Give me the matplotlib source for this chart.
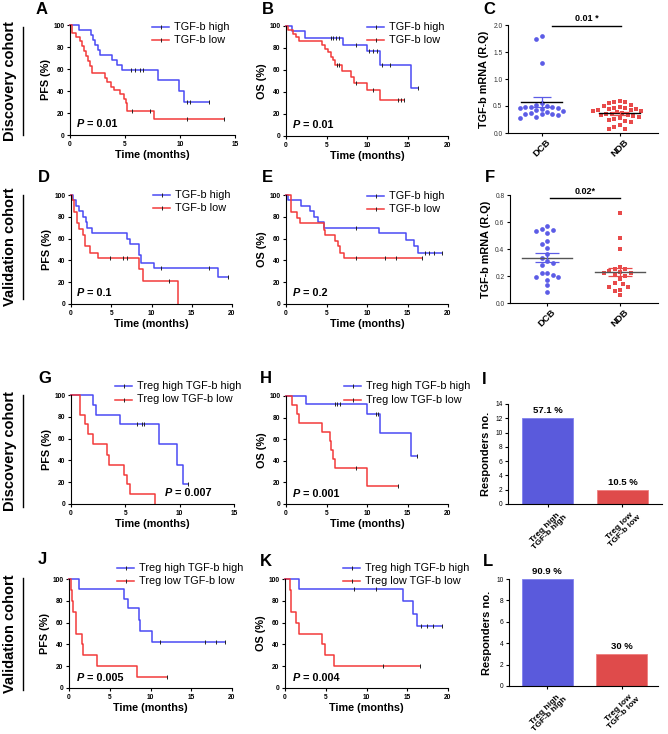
import numpy as np
import matplotlib
matplotlib.use("Agg")
import matplotlib.pyplot as plt
from matplotlib.lines import Line2D

plt.rcParams["font.family"] = ["Liberation Sans", "DejaVu Sans"]
plt.rcParams["axes.linewidth"] = 0.8

W, H = 668, 734

KM_BLUE = "#4a4af4"
KM_RED = "#f23a3a"
DOT_BLUE = "#5c5ce6"
DOT_RED = "#e84a4a"
BAR_BLUE = "#5a5adc"
BAR_RED = "#df4b4b"

# ---- Kaplan-Meier curves: event times, survival after event (%), censor times ----
# A: PFS discovery, TGF-b
a_hi_t = [0.8, 1.9, 2.1, 2.3, 2.5, 2.7, 3.8, 4.3, 4.7, 8.0, 9.9, 10.4]
a_hi_s = [95, 91, 86, 82, 77, 73, 68, 64, 59, 50, 40, 30]
a_hi_c = [5.5, 5.9, 6.4, 6.6, 10.6, 10.9, 12.6]
a_lo_t = [0.15, 0.5, 0.9, 1.1, 1.3, 1.45, 1.6, 1.85, 2.0, 3.2, 3.4, 3.7, 4.0, 4.5, 4.9, 5.05, 5.2, 7.6]
a_lo_s = [93, 89, 85, 81, 76, 72, 67, 63, 56, 52, 48, 44, 41, 37, 33, 29, 22, 15]
a_lo_c = [5.6, 7.3, 10.6, 14.0]

# B: OS discovery, TGF-b
b_hi_t = [0.75, 2.4, 7.0, 10.0, 11.6, 15.4]
b_hi_s = [95, 89, 83, 77, 65, 44]
b_hi_c = [5.5, 5.8, 6.2, 6.6, 8.7, 10.3, 10.7, 11.2, 11.9, 12.9, 16.3]
b_lo_t = [0.3, 0.9, 1.2, 1.6, 4.5, 4.8, 5.2, 5.5, 5.75, 6.0, 6.9, 8.0, 8.4, 10.0, 11.6]
b_lo_s = [96, 93, 90, 86, 83, 79, 76, 72, 69, 65, 59, 54, 48, 42, 33]
b_lo_c = [6.3, 6.6, 8.6, 10.7, 13.8, 14.2, 14.6]

# D: PFS validation, TGF-b
d_hi_t = [0.3, 0.6, 1.0, 1.5, 1.9, 2.0, 2.6, 6.9, 7.3, 8.5, 8.7, 10.3, 18.3]
d_hi_s = [95, 90, 85, 80, 75, 70, 65, 60, 55, 45, 38, 33, 25]
d_hi_c = [11.2, 17.1, 19.5]
d_lo_t = [0.1, 0.4, 0.7, 1.0, 1.55, 1.7, 2.4, 3.4, 8.4, 8.9, 13.3]
d_lo_s = [95, 84, 74, 69, 63, 53, 47, 42, 32, 21, 0]
d_lo_c = [4.9, 6.5, 6.9, 12.2]

# E: OS validation, TGF-b
e_hi_t = [0.3, 1.8, 3.0, 3.4, 3.9, 4.75, 11.5, 14.8, 15.8, 16.3]
e_hi_s = [95, 90, 85, 80, 75, 70, 65, 59, 53, 47]
e_hi_c = [8.6, 17.1, 17.6, 18.3, 19.3]
e_lo_t = [0.6, 1.3, 1.7, 4.65, 4.8, 6.0, 6.4, 6.7, 7.2]
e_lo_s = [84, 79, 74, 68, 63, 58, 53, 47, 42]
e_lo_c = [8.7, 12.2, 13.6, 16.8]

# G: PFS discovery, Treg + TGF-b
g_hi_t = [2.0, 2.3, 4.5, 8.1, 9.75, 10.3]
g_hi_s = [91, 82, 73, 55, 36, 18]
g_hi_c = [6.1, 6.5, 6.7, 10.8]
g_lo_t = [0.85, 1.3, 1.55, 2.0, 3.3, 3.5, 4.9, 5.15, 5.4, 7.7]
g_lo_s = [82, 73, 64, 55, 45, 36, 27, 18, 9, 0]
g_lo_c = []

# H: OS discovery, Treg + TGF-b
h_hi_t = [2.5, 10.0, 11.6, 15.4]
h_hi_s = [93, 83, 66, 44]
h_hi_c = [6.1, 6.3, 6.7, 11.1, 11.3, 16.2]
h_lo_t = [0.75, 1.4, 1.6, 4.5, 5.4, 5.6, 5.8, 6.1, 10.0]
h_lo_s = [92, 83, 75, 67, 58, 50, 42, 33, 17]
h_lo_c = [8.7, 13.8]

# J: PFS validation, Treg + TGF-b
j_hi_t = [1.25, 6.8, 7.2, 8.6, 8.7, 10.2]
j_hi_s = [91, 82, 73, 62, 52, 42]
j_hi_c = [11.2, 16.7, 18.0, 19.2]
j_lo_t = [0.2, 0.35, 0.45, 0.8, 0.85, 1.55, 1.75, 3.4, 8.3]
j_lo_s = [90, 80, 70, 60, 50, 40, 30, 20, 10]
j_lo_c = [12.0]

# K: OS validation, Treg + TGF-b
k_hi_t = [1.75, 14.5, 15.7, 16.2]
k_hi_s = [91, 80, 68, 57]
k_hi_c = [8.5, 11.2, 16.7, 17.4, 18.2, 19.3]
k_lo_t = [0.6, 0.7, 0.75, 1.35, 1.7, 4.6, 4.85, 6.05]
k_lo_s = [90, 80, 70, 60, 50, 40, 30, 20]
k_lo_c = [12.0, 16.6]

# ---- TGF-b mRNA (R.Q) dot plots ----
groups = ["DCB", "NDB"]
c_dcb = [1.80, 1.74, 1.29, 0.55, 0.52, 0.50, 0.49, 0.48, 0.48, 0.47, 0.46,
         0.45, 0.42, 0.40, 0.38, 0.37, 0.36, 0.36, 0.35, 0.34, 0.30, 0.28]
c_ndb = [0.60, 0.58, 0.58, 0.56, 0.52, 0.50, 0.48, 0.47, 0.46, 0.45, 0.44,
         0.43, 0.42, 0.41, 0.40, 0.38, 0.37, 0.36, 0.35, 0.34, 0.33, 0.32,
         0.30, 0.28, 0.26, 0.25, 0.22, 0.20, 0.15, 0.12, 0.08, 0.08]
f_dcb = [0.57, 0.55, 0.54, 0.53, 0.52, 0.46, 0.44, 0.41, 0.36, 0.33, 0.31,
         0.30, 0.28, 0.22, 0.22, 0.21, 0.19, 0.19, 0.17, 0.13, 0.08]
f_ndb = [0.67, 0.48, 0.40, 0.27, 0.25, 0.25, 0.24, 0.23, 0.22, 0.22, 0.21,
         0.20, 0.18, 0.15, 0.14, 0.12, 0.12, 0.10, 0.09, 0.06]

# ---- responders ----
bar_labels = ["Treg high\nTGF-b high", "Treg low\nTGF-b low"]
i_counts = [12, 2]
i_pct = ["57.1 %", "10.5 %"]
l_counts = [10, 3]
l_pct = ["90.9 %", "30 %"]

tgf_labels = ["TGF-b high", "TGF-b low"]
treg_labels = ["Treg high TGF-b high", "Treg low TGF-b low"]

fig = plt.figure(figsize=(W / 100, H / 100), dpi=100)


def px_axes(l, t, r, b):
    return fig.add_axes([l / W, 1 - b / H, (r - l) / W, (b - t) / H])


def fx(x):
    return x / W


def fy(y):
    return 1 - y / H


def base_style(ax):
    for s in ("top", "right"):
        ax.spines[s].set_visible(False)
    ax.tick_params(length=2.5, width=0.8, pad=1.5, labelsize=4.8)


def draw_km(ax, t, s, cens, color):
    x = np.r_[0.0, t]
    y = np.r_[100.0, s]
    end = max(x[-1], max(cens) if cens else 0)
    x = np.r_[x, end]
    y = np.r_[y, y[-1]]
    ax.step(x, y, where="post", color=color, lw=1.1, clip_on=False)
    if cens:
        idx = np.searchsorted(x[:-1], cens, side="right") - 1
        ax.plot(cens, y[idx], ls="none", marker="|", ms=3, mew=0.7,
                color="#222222", clip_on=False)


def km_panel(ax, curves, xmax, ylabel, pval, ppos):
    base_style(ax)
    for t, s, c, col in curves:
        draw_km(ax, t, s, c, col)
    ax.set_xlim(0, xmax)
    ax.set_ylim(0, 100)
    xt = np.arange(0, xmax + 1, 5)
    ax.set_xticks(xt, [str(v) for v in xt], fontweight="bold")
    yt = np.arange(0, 101, 20)
    ax.set_yticks(yt, [str(v) for v in yt], fontweight="bold")
    ax.set_xlabel("Time (months)", fontsize=7.8, fontweight="bold", labelpad=2)
    ax.set_ylabel(ylabel, fontsize=7.8, fontweight="bold", labelpad=2)
    p = ax.text(ppos[0], ppos[1], "P", style="italic", weight="bold",
                fontsize=7.8, va="center", ha="left")
    ax.annotate(" = " + pval, xy=(1, 0.5), xycoords=p, va="center", ha="left",
                weight="bold", fontsize=7.8)


def legend_rows(x0, y0, dy, labels):
    for k, (lab, col) in enumerate(zip(labels, [KM_BLUE, KM_RED])):
        y = y0 + k * dy
        fig.add_artist(Line2D([fx(x0), fx(x0 + 17)], [fy(y), fy(y)], color=col,
                              lw=1.1, transform=fig.transFigure))
        fig.add_artist(Line2D([fx(x0 + 8.5)], [fy(y)], marker="|", ms=3, mew=0.7,
                              color="#222222", transform=fig.transFigure))
        fig.text(fx(x0 + 22), fy(y), lab, fontsize=7.8, va="center", ha="left")


def swarm_offsets(vals, sx, sy, d):
    vals = np.asarray(vals, float)
    offs = np.zeros(len(vals))
    placed = []
    cands = sorted([j * d / 2 for j in range(-30, 31)], key=abs)
    for i in np.argsort(vals)[::-1]:
        y = vals[i] * sy
        for cx in cands:
            if all((cx - px) ** 2 + (y - py) ** 2 >= d * d for px, py in placed):
                break
        placed.append((cx, y))
        offs[i] = cx / sx
    return offs


def dot_panel(ax, data, xlim, ylim, yticks, yfmt, px_w, px_h, mean_col,
              mean_hw, cap, sig, sig_x, sig_y):
    base_style(ax)
    sx = px_w / (xlim[1] - xlim[0])
    sy = px_h / (ylim[1] - ylim[0])
    for pos, vals, col, mk in zip([1, 2], data, [DOT_BLUE, DOT_RED], ["o", "s"]):
        v = np.asarray(vals, float)
        off = swarm_offsets(v, sx, sy, 5.4)
        ax.plot(pos + off, v, ls="none", marker=mk, ms=3.4, mew=0,
                color=col, clip_on=False)
        m = v.mean()
        sem = v.std(ddof=1) / np.sqrt(len(v))
        ax.plot([pos - mean_hw, pos + mean_hw], [m, m], color=mean_col, lw=1.0)
        ax.errorbar(pos, m, yerr=sem, fmt="none", ecolor=col, elinewidth=0.9,
                    capsize=cap, capthick=0.9)
    ax.set_xlim(*xlim)
    ax.set_ylim(*ylim)
    ax.set_xticks([1, 2], groups, rotation=45, ha="center",
                  fontsize=6.8, fontweight="bold")
    ax.set_yticks(yticks, [yfmt.format(v) for v in yticks], color="#333333")
    ax.tick_params(axis="x", pad=1)
    ax.set_ylabel("TGF-b mRNA (R.Q)", fontsize=7.8, fontweight="bold", labelpad=3)
    ax.plot(sig_x, [sig_y, sig_y], color="black", lw=1.0, clip_on=False)
    ax.text(np.mean(sig_x), sig_y + (ylim[1] - ylim[0]) * 0.02, sig, ha="center",
            va="bottom", fontsize=6.5, fontweight="bold")


def bar_panel(ax, counts, pct, xlim, ymax):
    base_style(ax)
    x = np.arange(1, len(counts) + 1)
    ax.bar(x, counts, width=0.69, color=[BAR_BLUE, BAR_RED],
           edgecolor=["#8080ee", "#ee8080"], lw=0.6)
    for xi, c, p in zip(x, counts, pct):
        ax.text(xi, c + ymax * 0.03, p, ha="center", va="bottom", fontsize=6.8,
                fontweight="bold")
    ax.set_xlim(*xlim)
    ax.set_ylim(0, ymax)
    ax.set_yticks(np.arange(0, ymax + 1, 2))
    ax.set_xticks(x, bar_labels, rotation=45, ha="center",
                  fontsize=6.1, fontweight="bold", multialignment="center",
                  linespacing=1.0)
    ax.tick_params(axis="x", pad=1)
    ax.set_ylabel("Responders no.", fontsize=8, fontweight="bold", labelpad=3)


# ---- row 1 ----
ax = px_axes(70, 25, 235, 135)
km_panel(ax, [(a_hi_t, a_hi_s, a_hi_c, KM_BLUE), (a_lo_t, a_lo_s, a_lo_c, KM_RED)],
         15, "PFS (%)", "0.01", (0.6, 10))
legend_rows(152, 27, 13, tgf_labels)

ax = px_axes(286, 26, 448, 136)
km_panel(ax, [(b_hi_t, b_hi_s, b_hi_c, KM_BLUE), (b_lo_t, b_lo_s, b_lo_c, KM_RED)],
         20, "OS (%)", "0.01", (0.85, 10))
legend_rows(367, 27, 13, tgf_labels)

ax = px_axes(508, 25, 658, 133)
dot_panel(ax, [c_dcb, c_ndb], (0.57, 2.49), (0, 2.0), [0, 0.5, 1.0, 1.5, 2.0],
          "{:.1f}", 150, 108, "black", 0.26, 6.5, "0.01 *", [1.13, 2.02], 1.99)

# ---- row 2 ----
ax = px_axes(71, 195, 232, 304)
km_panel(ax, [(d_hi_t, d_hi_s, d_hi_c, KM_BLUE), (d_lo_t, d_lo_s, d_lo_c, KM_RED)],
         20, "PFS (%)", "0.1", (0.75, 10))
legend_rows(153, 195, 13, tgf_labels)

ax = px_axes(286, 195, 448, 304)
km_panel(ax, [(e_hi_t, e_hi_s, e_hi_c, KM_BLUE), (e_lo_t, e_lo_s, e_lo_c, KM_RED)],
         20, "OS (%)", "0.2", (0.85, 10))
legend_rows(367, 196, 12.5, tgf_labels)

ax = px_axes(510, 195, 658, 303)
dot_panel(ax, [f_dcb, f_ndb], (0.49, 2.52), (0, 0.8), [0, 0.2, 0.4, 0.6, 0.8],
          "{:.1f}", 148, 108, "#555555", 0.34, 8.5, "0.02*", [1.04, 2.0], 0.78)

# ---- row 3 ----
ax = px_axes(71, 395, 234, 504)
km_panel(ax, [(g_hi_t, g_hi_s, g_hi_c, KM_BLUE), (g_lo_t, g_lo_s, g_lo_c, KM_RED)],
         15, "PFS (%)", "0.007", (8.6, 10))
legend_rows(115, 386, 13.5, treg_labels)

ax = px_axes(286, 396, 448, 504)
km_panel(ax, [(h_hi_t, h_hi_s, h_hi_c, KM_BLUE), (h_lo_t, h_lo_s, h_lo_c, KM_RED)],
         20, "OS (%)", "0.001", (0.85, 9))
legend_rows(344, 386, 14, treg_labels)

ax = px_axes(508, 404, 662, 504)
bar_panel(ax, i_counts, i_pct, (0.47, 2.53), 14)

# ---- row 4 ----
ax = px_axes(69, 579, 232, 688)
km_panel(ax, [(j_hi_t, j_hi_s, j_hi_c, KM_BLUE), (j_lo_t, j_lo_s, j_lo_c, KM_RED)],
         20, "PFS (%)", "0.005", (1.0, 9))
legend_rows(117, 568, 13, treg_labels)

ax = px_axes(285, 579, 448, 688)
km_panel(ax, [(k_hi_t, k_hi_s, k_hi_c, KM_BLUE), (k_lo_t, k_lo_s, k_lo_c, KM_RED)],
         20, "OS (%)", "0.004", (1.0, 9))
legend_rows(343, 568, 13, treg_labels)

ax = px_axes(509, 579, 658, 686)
bar_panel(ax, l_counts, l_pct, (0.485, 2.49), 10)

# ---- panel letters ----
letters = {"A": (36, 10), "B": (262, 10), "C": (483, 10),
           "D": (38, 177), "E": (262, 177), "F": (485, 177),
           "G": (38, 378), "H": (260, 378), "I": (482, 380),
           "J": (38, 560), "K": (260, 561), "L": (483, 561)}
for k, (x, y) in letters.items():
    fig.text(fx(x), fy(y), k, fontsize=12, fontweight="bold", ha="left", va="center")

# ---- cohort labels ----
cohorts = [("Discovery cohort", 27, 135), ("Validation cohort", 195, 299),
           ("Discovery cohort", 395, 507), ("Validation cohort", 578, 690)]
for name, y0, y1 in cohorts:
    fig.text(fx(10), fy((y0 + y1) / 2), name, rotation=90, ha="center", va="center",
             fontsize=10.5, fontweight="bold")
    fig.add_artist(Line2D([fx(23), fx(23)], [fy(y0), fy(y1)], color="black", lw=1.0,
                          transform=fig.transFigure))

fig.savefig("out.png", dpi=100)
